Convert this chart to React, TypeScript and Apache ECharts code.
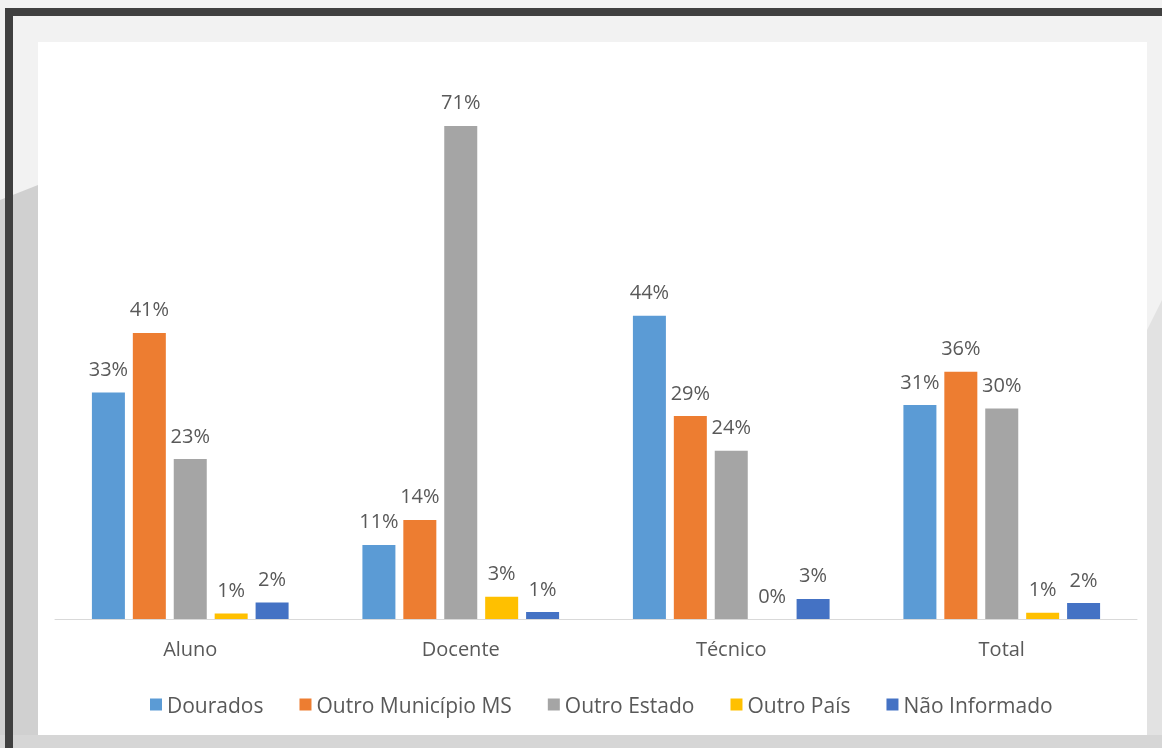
import React, { useEffect, useRef } from "react";
import * as echarts from "echarts";

const categories = ["Aluno", "Docente", "Técnico", "Total"];
const seriesNames = ["Dourados", "Outro Município MS", "Outro Estado", "Outro País", "Não Informado"];
const dourados = [32.7, 10.7, 43.8, 30.9];
const outroMunicipio = [41.3, 14.3, 29.3, 35.7];
const outroEstado = [23.1, 71.2, 24.3, 30.4];
const outroPais = [0.8, 3.2, 0, 0.9];
const naoInformado = [2.4, 1.0, 2.9, 2.3];
const colors = ["#5b9bd5", "#ed7d31", "#a5a5a5", "#ffc000", "#4472c4"];

const FONT = "'Open Sans', 'DejaVu Sans', sans-serif";

export default function App() {
  const ref = useRef<HTMLDivElement>(null);
  useEffect(() => {
    if (!ref.current) return;
    const chart = echarts.init(ref.current, null, { renderer: "svg" });
    const values = [dourados, outroMunicipio, outroEstado, outroPais, naoInformado];
    chart.setOption({
      animation: false,
      textStyle: { fontFamily: FONT },
      graphic: [
        { type: "rect", z: -10, silent: true, shape: { x: 0, y: 0, width: 1162, height: 748 }, style: { fill: "#f2f2f2" } },
        { type: "polygon", z: -9, silent: true, shape: { points: [[0, 200], [38, 185], [38, 748], [0, 748]] }, style: { fill: "#d0d0d0" } },
        { type: "polygon", z: -9, silent: true, shape: { points: [[1147, 330], [1162, 300], [1162, 748], [1147, 748]] }, style: { fill: "#e2e2e2" } },
        { type: "rect", z: -9, silent: true, shape: { x: 0, y: 735, width: 1162, height: 13 }, style: { fill: "#d6d6d6" } },
        { type: "rect", z: -8, silent: true, shape: { x: 5, y: 8, width: 1157, height: 8 }, style: { fill: "#404040" } },
        { type: "rect", z: -8, silent: true, shape: { x: 5, y: 8, width: 8, height: 740 }, style: { fill: "#404040" } },
        { type: "rect", z: -7, silent: true, shape: { x: 38, y: 42, width: 1109, height: 693 }, style: { fill: "#ffffff" } },
      ],
      grid: { left: 55, right: 25, top: 65, bottom: 129, containLabel: false },
      xAxis: {
        type: "category",
        data: categories,
        axisLine: { lineStyle: { color: "#d9d9d9", width: 1 } },
        axisTick: { show: false },
        axisLabel: { color: "#595959", fontSize: 20, margin: 19, fontFamily: FONT },
      },
      yAxis: { type: "value", min: 0, max: 80, show: false, splitLine: { show: false } },
      legend: {
        left: 145,
        top: 689,
        icon: "rect",
        itemWidth: 12,
        itemHeight: 12,
        itemGap: 36,
        textStyle: { color: "#595959", fontSize: 21, fontFamily: FONT },
        data: seriesNames,
      },
      series: seriesNames.map((name, i) => ({
        name,
        type: "bar",
        data: values[i],
        barWidth: 33,
        barGap: "24%",
        itemStyle: { color: colors[i] },
        label: {
          show: true,
          position: "top",
          distance: 14,
          color: "#595959",
          fontSize: 20,
          fontFamily: FONT,
          formatter: (p: any) => Math.round(p.value) + "%",
        },
      })),
    });
    return () => chart.dispose();
  }, []);
  return <div ref={ref} style={{ position: "fixed", left: 0, top: 0, width: 1162, height: 748 }} />;
}
